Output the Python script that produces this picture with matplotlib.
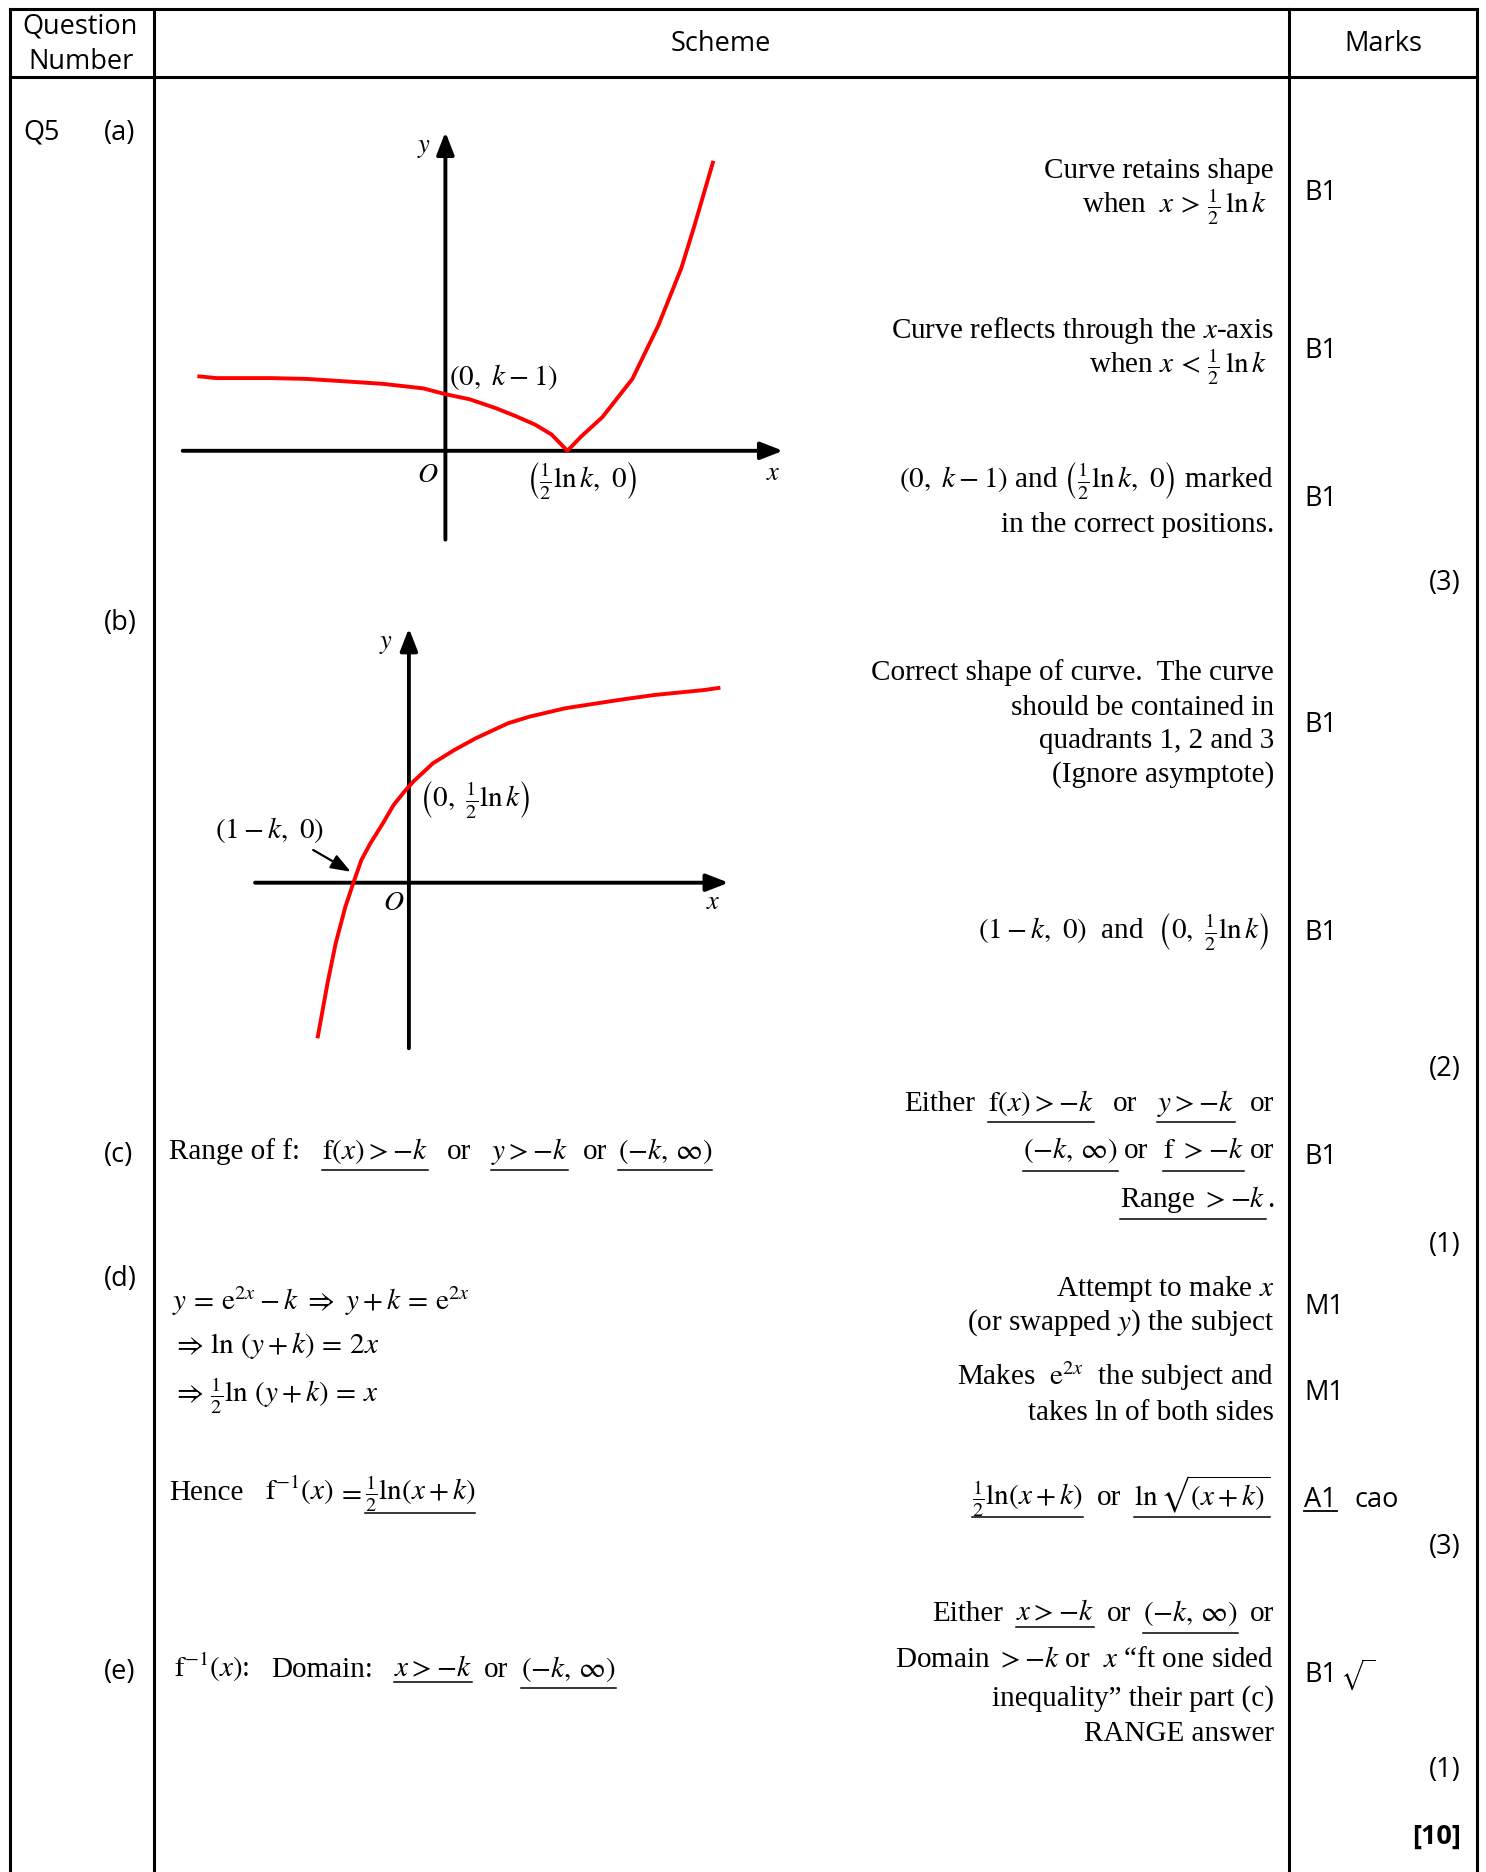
import matplotlib
matplotlib.use("Agg")
import matplotlib.pyplot as plt

plt.rcParams['mathtext.fontset'] = 'stix'
SERIF = ['Liberation Serif', 'DejaVu Serif']
SANS = ['Open Sans', 'DejaVu Sans']
FS = 21      # serif body size (pt)
FM = 19.5    # sans marks size (pt)

W, H = 1486, 1872

# ---------------- data ----------------
# sketch (a): y = |e^{2x} - k|, sketch units (origin at axes crossing, y up)
a_curve_x = [-248, -229, -175, -139, -109, -63, -22, 0, 24, 50, 70, 90, 106, 122,
             136, 157, 187, 213, 236, 249, 268]
a_curve_y = [74.6, 72.7, 72.7, 71.9, 70, 67, 62.4, 56.6, 51.6, 42.8, 34.8, 26, 16.4, 0,
             14.5, 33.7, 71.9, 125.5, 182.9, 225, 290]
# sketch (b): y = 1/2 ln(x + k)
b_curve_x = [-91.4, -81.4, -73.2, -63.5, -55.7, -47.5, -38.5, -26, -15.3, -4.6, 4.3,
             24, 45.4, 66.8, 99, 120.4, 156.1, 209.7, 245.4, 295.4, 311.5]
b_curve_y = [-155.6, -100.6, -60.6, -24, -0.6, 22.7, 39.4, 59.4, 77.7, 91, 101,
             119.4, 132.7, 144.4, 159.4, 166, 174.4, 182.7, 187.7, 192.7, 195]

header_labels = ["Question\nNumber", "Scheme", "Marks"]
part_labels = ["(a)", "(b)", "(c)", "(d)", "(e)"]
mark_labels = ["B1", "B1", "B1", "(3)", "B1", "B1", "(2)", "B1", "(1)",
               "M1", "M1", "A1", "(3)", "B1", "(1)", "[10]"]

fig = plt.figure(figsize=(W / 100, H / 100), dpi=100)
ax = fig.add_axes([0, 0, 1, 1])
ax.set_xlim(0, W)
ax.set_ylim(H, 0)
ax.axis('off')
renderer = fig.canvas.get_renderer()

# ---------------- table frame ----------------
LW = 2.2
ax.plot([9.5, 1477], [8.5, 8.5], color='k', lw=LW, solid_capstyle='projecting')
ax.plot([9.5, 1477], [76.5, 76.5], color='k', lw=LW)
for xv in [9.5, 154, 1289, 1477]:
    ax.plot([xv, xv], [8.5, H + 5], color='k', lw=LW, solid_capstyle='projecting')


def sans(x, y, s, ha='left', weight='normal'):
    return ax.text(x, y, s, family=SANS, fontsize=FM, ha=ha, va='baseline',
                   fontweight=weight)


def serif(x, y, s, ha='left', size=FS):
    return ax.text(x, y, s, family=SERIF, fontsize=size, ha=ha, va='baseline')


def place(x, y, parts, ha='left', size=FS):
    """parts: str (plain), number (gap px), tuple (str, underline offset px)."""
    items = []
    for p in parts:
        if isinstance(p, (int, float)):
            items.append(('gap', p))
            continue
        if isinstance(p, tuple):
            s, uo = p
        else:
            s, uo = p, None
        t = serif(0, y, s, size=size)
        w = t.get_window_extent(renderer).width
        items.append((t, w, uo))
    total = sum(it[1] for it in items)
    cur = x if ha == 'left' else x - total
    for it in items:
        if it[0] == 'gap':
            cur += it[1]
            continue
        t, w, uo = it
        t.set_x(cur)
        if uo is not None:
            ax.plot([cur, cur + w], [y + uo, y + uo], color='k', lw=1.1)
        cur += w


# ---------------- header ----------------
sans(80.5, 33.7, "Question", ha='center')
sans(81, 68.9, "Number", ha='center')
sans(720.5, 50.9, header_labels[1], ha='center')
sans(1383, 50.9, header_labels[2], ha='center')

# ---------------- left column ----------------
sans(23, 139.7, "Q5")
for lab, yb in zip(part_labels, [139.7, 630, 1162, 1286.5, 1679]):
    sans(103.6, yb, lab)

# ---------------- marks column ----------------
mark_pos = [(1304, 200, 'l'), (1304, 358.5, 'l'), (1304, 506, 'l'), (1461, 590, 'r'),
            (1304, 732, 'l'), (1304, 940.5, 'l'), (1461, 1075.5, 'r'),
            (1304, 1164, 'l'), (1461, 1252, 'r'), (1304, 1314, 'l'), (1304, 1400.5, 'l'),
            (1304, 1507, 'l'), (1461, 1554, 'r'), (1304, 1682, 'l'), (1461, 1777, 'r'),
            (1461, 1844, 'r')]
for lab, (xm, ym, al) in zip(mark_labels, mark_pos):
    t = sans(xm, ym, lab, ha='left' if al == 'l' else 'right',
             weight='bold' if lab == "[10]" else 'normal')
    if lab == "A1":
        bb = t.get_window_extent(renderer)
        ax.plot([xm, xm + bb.width], [ym + 4, ym + 4], color='k', lw=1.3)
sans(1355, 1507, "cao")
ax.text(1340, 1684, r"$\sqrt{\,\,}$", fontsize=17, ha='left', va='baseline')

# ---------------- scheme: right-hand comments ----------------
R = 1274
serif(R, 178, "Curve retains shape", ha='right')
serif(1267, 213.5, r"when  $x\,>\,\frac{1}{2}\,\ln k$", ha='right')
serif(R, 337.5, r"Curve reflects through the $x$-axis", ha='right')
serif(1267, 373, r"when $x\,<\,\frac{1}{2}\,\ln k$", ha='right')
serif(R, 486.8, r"$(0,\ k-1)$ and $\left(\frac{1}{2}\ln k,\ 0\right)$ marked", ha='right')
serif(R, 532, "in the correct positions.", ha='right')

serif(R, 680, "Correct shape of curve.  The curve", ha='right')
serif(R, 715, "should be contained in", ha='right')
serif(R, 748.3, "quadrants 1, 2 and 3", ha='right')
serif(R, 782, "(Ignore asymptote)", ha='right')
serif(1268.6, 938.3, r"$(1-k,\ 0)$  and  $\left(0,\ \frac{1}{2}\ln k\right)$", ha='right')

place(R, 1110.7, ["Either", 13, (r"$\mathrm{f}(x)>-k$", 11.6), 19, "or", 20,
                  (r"$y>-k$", 11.6), 15, "or"], ha='right')
place(R, 1158.3, [(r"$(-k,\,\infty)$", 12.7), 6, "or", 15,
                  (r"$\mathrm{f}\ >-k$", 12.7), 6, "or"], ha='right')
place(R, 1206.7, [(r"Range $>-k$", 12.6), 1, "."], ha='right')

serif(R, 1296, r"Attempt to make $x$", ha='right')
serif(R, 1329.3, r"(or swapped $y$) the subject", ha='right')
serif(R, 1385, r"Makes  $\mathrm{e}^{2x}$  the subject and", ha='right')
serif(R, 1420, "takes ln of both sides", ha='right')
place(1270, 1505, [(r"$\frac{1}{2}\ln(x+k)$", 11.7), 14, "or", 13,
                   (r"$\ln\sqrt{(x+k)}$", 11.7)], ha='right')

place(R, 1620.7, ["Either", 13, (r"$x>-k$", 6.3), 13, "or", 12,
                  (r"$(-k,\,\infty)$", 12.3), 12, "or"], ha='right')
serif(R, 1667.3, "Domain $>-k$ or  $x$ \u201cft one sided", ha='right')
serif(R, 1706, "inequality\u201d their part (c)", ha='right')
serif(R, 1740.7, "RANGE answer", ha='right')

# ---------------- scheme: left-hand working ----------------
place(169, 1159.3, ["Range of f:", 22, (r"$\mathrm{f}(x)>-k$", 11), 19, "or", 20,
                    (r"$y>-k$", 11), 14, "or", 11, (r"$(-k,\,\infty)$", 11)])
serif(172, 1310,
      r"$y\,=\,\mathrm{e}^{2x}-k\ \Rightarrow\ y+k\,=\,\mathrm{e}^{2x}$")
serif(172, 1353.3, r"$\Rightarrow\,\ln\,(y+k)\,=\,2x$")
serif(172, 1401.7, r"$\Rightarrow\,\frac{1}{2}\ln\,(y+k)\,=\,x$")
place(169, 1500, ["Hence", 22, r"$\mathrm{f}^{-1}(x)$", 3, r"$=$", 3,
                  (r"$\frac{1}{2}\ln(x+k)$", 13.3)])
place(174, 1676.7, [r"$\mathrm{f}^{-1}(x)$:", 22, "Domain:", 21, (r"$x>-k$", 5.3), 12,
                    "or", 13, (r"$(-k,\,\infty)$", 11.3)])


# ---------------- sketches ----------------
def sketch_axes(origin, xlim, ylim):
    ox, oy = origin
    a = fig.add_axes([(ox + xlim[0]) / W, 1 - (oy - ylim[0]) / H,
                      (xlim[1] - xlim[0]) / W, (ylim[1] - ylim[0]) / H])
    a.set_xlim(*xlim)
    a.set_ylim(*ylim)
    a.axis('off')
    return a


def draw_axes(a, xr, yr):
    style = '-|>,head_length=0.9,head_width=0.35'
    a.annotate('', xy=(xr[1], 0), xytext=(xr[0], 0),
               arrowprops=dict(arrowstyle=style, lw=2.8, color='k', shrinkA=0,
                               shrinkB=0, mutation_scale=15))
    a.annotate('', xy=(0, yr[1]), xytext=(0, yr[0]),
               arrowprops=dict(arrowstyle=style, lw=2.8, color='k', shrinkA=0,
                               shrinkB=0, mutation_scale=15))


# (a)
sa = sketch_axes((445.4, 450.8), (-280, 350), (-100, 330))
draw_axes(sa, (-262.7, 337.6), (-88.8, 318.8))
sa.plot(a_curve_x, a_curve_y, color='red', lw=2.8, solid_joinstyle='round',
        solid_capstyle='butt', zorder=3)
sa.text(-21.9, 303.5, r"$y$", fontsize=19, ha='center', va='center')
sa.text(-17.8, -23.7, r"$O$", fontsize=20, ha='center', va='center')
sa.text(327.6, -21.8, r"$x$", fontsize=19, ha='center', va='center')
sa.text(3.6, 73.8, r"$(0,\ k-1)$", fontsize=FS, ha='left', va='center')
sa.text(136.1, -29.2, r"$\left(\frac{1}{2}\ln k,\ 0\right)$", fontsize=FS,
        ha='center', va='center')

# (b)
sb = sketch_axes((408.9, 882.7), (-170, 330), (-175, 265))
draw_axes(sb, (-153.9, 319.7), (-165.6, 254.4))
sb.plot(b_curve_x, b_curve_y, color='red', lw=2.8, solid_joinstyle='round',
        solid_capstyle='butt', zorder=3)
sb.text(-23.2, 239.4, r"$y$", fontsize=19, ha='center', va='center')
sb.text(-15.3, -19, r"$O$", fontsize=20, ha='center', va='center')
sb.text(304.3, -19, r"$x$", fontsize=19, ha='center', va='center')
sb.text(9.7, 82.7, r"$\left(0,\ \frac{1}{2}\ln k\right)$", fontsize=FS,
        ha='left', va='center')
sb.text(-139.4, 52.7, r"$(1-k,\ 0)$", fontsize=FS, ha='center', va='center')
sb.annotate('', xy=(-58.2, 11), xytext=(-95.7, 32.7),
            arrowprops=dict(arrowstyle='-|>,head_length=0.8,head_width=0.3', lw=1.6,
                            color='k', shrinkA=0, shrinkB=0, mutation_scale=15))

fig.savefig("out.png", dpi=100)
